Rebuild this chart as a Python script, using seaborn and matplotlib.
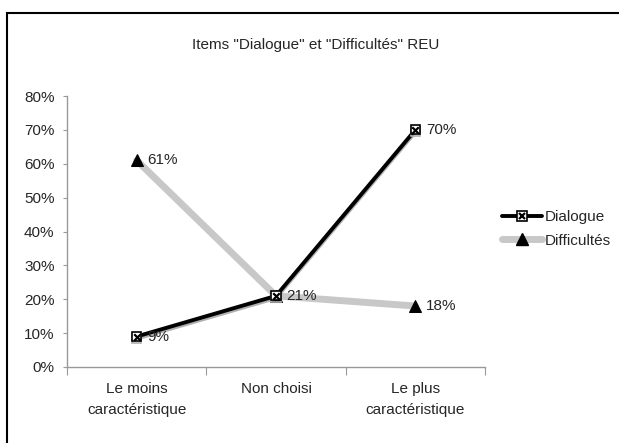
import matplotlib
matplotlib.use("Agg")
import matplotlib.pyplot as plt
import matplotlib.patheffects as pe
from matplotlib.lines import Line2D
from matplotlib.legend_handler import HandlerTuple
from matplotlib.patches import Rectangle
import seaborn as sns
import pandas as pd

categories = ["Le moins\ncaractéristique", "Non choisi", "Le plus\ncaractéristique"]
dialogue = [9, 21, 70]
difficultes = [61, 21, 18]
yticks = [0, 10, 20, 30, 40, 50, 60, 70, 80]
title = 'Items "Dialogue" et "Difficultés" REU'

sns.set_style("white")
plt.rcParams["font.family"] = ["Liberation Sans", "DejaVu Sans"]
FS = 11

fig = plt.figure(figsize=(6.19, 4.43), dpi=100)
ax = fig.add_axes([67/619, 1-367/443, (485-67)/619, (367-96)/443])

pos = list(range(len(categories)))
df_dif = pd.DataFrame({"x": pos, "y": difficultes})
df_dia = pd.DataFrame({"x": pos, "y": dialogue})

shadow = [pe.SimpleLineShadow(offset=(0, -1.5), shadow_color="#b0b0b0", alpha=1), pe.Normal()]

sns.lineplot(data=df_dif, x="x", y="y", ax=ax, color="#c8c8c8", linewidth=5,
             marker="^", markersize=8, markerfacecolor="black", markeredgecolor="black",
             zorder=2)
sns.lineplot(data=df_dia, x="x", y="y", ax=ax, color="black", linewidth=2.8,
             marker="s", markersize=6.5, markerfacecolor="white", markeredgecolor="black",
             markeredgewidth=1.2, zorder=3, path_effects=shadow)
sns.scatterplot(data=df_dia, x="x", y="y", ax=ax, marker="x", s=22, color="black",
                linewidth=1.6, zorder=4)

for xi, v in zip(pos, dialogue):
    ax.text(xi + 0.075, v, f"{v}%", va="center", ha="left", fontsize=FS, zorder=5)
for xi, v in zip(pos, difficultes):
    if v == 21 and 21 in dialogue:
        continue
    ax.text(xi + 0.075, v, f"{v}%", va="center", ha="left", fontsize=FS, zorder=5)

ax.set_xlim(-0.5, 2.5)
ax.set_ylim(0, 80)
ax.set_yticks(yticks)
ax.set_yticklabels([f"{t}%" for t in yticks], fontsize=FS)
ax.set_xticks([-0.5, 0.5, 1.5, 2.5])
ax.set_xticklabels([])
ax.set_xticks(pos, minor=True)
ax.set_xticklabels(categories, minor=True, fontsize=FS, linespacing=1.6)
ax.tick_params(axis="x", which="minor", length=0, pad=11)
ax.tick_params(axis="x", which="major", length=6, color="#999999", direction="out", bottom=True)
ax.tick_params(axis="y", length=3, color="#999999", direction="out", left=True, pad=6)
ax.set_xlabel("")
ax.set_ylabel("")
for s in ["top", "right"]:
    ax.spines[s].set_visible(False)
for s in ["left", "bottom"]:
    ax.spines[s].set_color("#999999")
    ax.spines[s].set_linewidth(1)

fig.text(0.51, 1 - 45/443, title, ha="center", va="center", fontsize=FS)

h_dia = (Line2D([], [], color="black", linewidth=2.8, marker="s", markersize=6.5,
                markerfacecolor="white", markeredgecolor="black", markeredgewidth=1.2),
         Line2D([], [], linestyle="none", marker="x", markersize=4.5, color="black",
                markeredgewidth=1.6))
h_dif = Line2D([], [], color="#c8c8c8", linewidth=5, marker="^", markersize=8,
               markerfacecolor="black", markeredgecolor="black")
fig.legend([h_dia, h_dif], ["Dialogue", "Difficultés"],
           handler_map={tuple: HandlerTuple(ndivide=1)},
           loc="center left", bbox_to_anchor=(502/619, 1 - 229/443), frameon=False,
           fontsize=FS, handlelength=2.6, handletextpad=0.2, labelspacing=0.6,
           borderaxespad=0, borderpad=0)

fig.patches.append(Rectangle((7/619, -0.05), 1.1, 1 - 13/443 + 0.05, transform=fig.transFigure,
                             fill=False, edgecolor="black", linewidth=1.5))

fig.savefig("out.png", dpi=100)
